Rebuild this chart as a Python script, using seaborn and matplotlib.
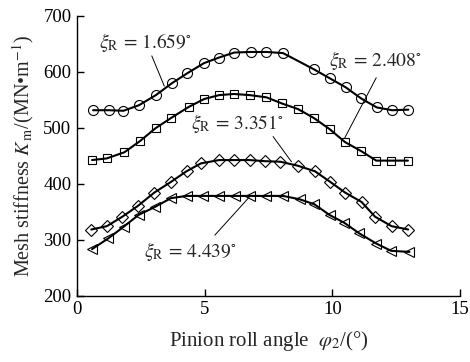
import matplotlib
matplotlib.use("Agg")
import matplotlib.pyplot as plt
import seaborn as sns
import numpy as np

# ---- data ----
x_c = [0.63, 1.26, 1.82, 2.43, 3.09, 3.71, 4.32, 4.97, 5.56, 6.16, 6.81, 7.42, 8.07,
       9.28, 9.90, 10.52, 11.13, 11.74, 12.34, 12.98]
y_c = [531, 531, 530, 540, 558, 579, 597, 615, 625, 634, 635, 635, 633,
       604, 588, 572, 552, 536, 531, 532]

x_s = [0.59, 1.17, 1.86, 2.47, 3.08, 3.68, 4.38, 4.98, 5.57, 6.15, 6.76, 7.42, 8.03,
       8.66, 9.28, 9.90, 10.50, 11.13, 11.72, 12.31, 12.96]
y_s = [442, 445, 456, 476, 499, 517, 537, 551, 558, 560, 558, 554, 543,
       533, 517, 497, 474, 458, 441, 441, 441]

x_d = [0.56, 1.17, 1.78, 2.38, 3.03, 3.68, 4.29, 4.85, 5.56, 6.15, 6.76, 7.37, 7.97,
       8.64, 9.32, 9.92, 10.50, 11.15, 11.67, 12.32, 12.97]
y_d = [318, 324, 341, 360, 384, 403, 422, 436, 442, 442, 442, 440, 439,
       432, 422, 403, 384, 367, 341, 324, 318]

x_t = [0.59, 1.22, 1.83, 2.41, 3.04, 3.68, 4.29, 4.95, 5.56, 6.18, 6.77, 7.42, 8.07,
       8.72, 9.30, 9.89, 10.47, 11.06, 11.72, 12.30, 13.02]
y_t = [283, 302, 323, 344, 358, 374, 378, 378, 378, 378, 378, 378, 378,
       372, 363, 344, 330, 311, 293, 280, 278]

labels = [r"$\xi_{\mathrm{R}}\,=\,1.659^{\circ}$", r"$\xi_{\mathrm{R}}\,=\,2.408^{\circ}$",
          r"$\xi_{\mathrm{R}}\,=\,3.351^{\circ}$", r"$\xi_{\mathrm{R}}\,=\,4.439^{\circ}$"]
x_ticks = [0, 5, 10, 15]
y_ticks = [200, 300, 400, 500, 600, 700]

sns.set_style("ticks")
plt.rcParams["font.family"] = ["Liberation Serif", "DejaVu Serif"]
plt.rcParams["mathtext.fontset"] = "stix"

fig = plt.figure(figsize=(4.7, 3.62), dpi=100)
ax = fig.add_axes([0.1638, 0.1834, 0.8149, 0.7736])

series = [(x_c, y_c, "o", 7.2), (x_s, y_s, "s", 6.4), (x_d, y_d, "D", 5.8), (x_t, y_t, "<", 7.4)]
for xs, ys, m, ms in series:
    sns.lineplot(x=xs, y=ys, ax=ax, color="black", lw=1.5, marker=m, markersize=ms,
                 markerfacecolor="none", markeredgecolor="black", markeredgewidth=0.8,
                 legend=False, sort=True, errorbar=None)

ax.set_xlim(0, 15)
ax.set_ylim(200, 700)
ax.set_xticks(x_ticks)
ax.set_yticks(y_ticks)
ax.tick_params(direction="in", length=5, width=1, labelsize=13.5, pad=4, colors="black")
for s in ["top", "right"]:
    ax.spines[s].set_visible(False)
for s in ["left", "bottom"]:
    ax.spines[s].set_linewidth(1.0)
    ax.spines[s].set_color("black")

ax.set_xlabel(r"Pinion roll angle  $\varphi_2$/(°)", fontsize=15, labelpad=8)
ax.set_ylabel(r"Mesh stiffness $K_{\,\mathrm{m}}$/(MN•m$^{-1}$)", fontsize=14.5, labelpad=5)

# annotations: text position, leader line start/end
ann = [
    (labels[0], (0.85, 652), (2.93, 628), (3.42, 574)),
    (labels[1], (9.88, 620), (11.72, 589), (10.48, 481)),
    (labels[2], (4.45, 507), (7.68, 484), (8.40, 439)),
    (labels[3], (2.62, 278), (5.40, 308), (6.77, 377)),
]
for txt, tpos, p0, p1 in ann:
    ax.text(tpos[0], tpos[1], txt, fontsize=14, ha="left", va="center")
    ax.plot([p0[0], p1[0]], [p0[1], p1[1]], color="black", lw=0.7)

fig.savefig("out.png", dpi=100)
